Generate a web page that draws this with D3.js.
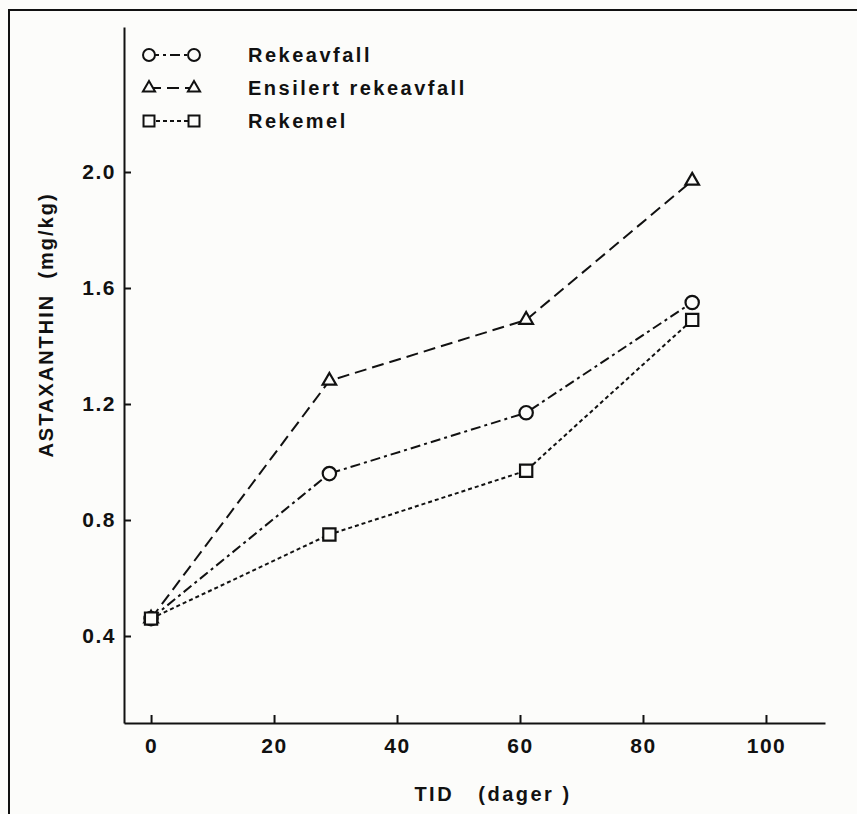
<!DOCTYPE html>
<head>
  <meta charset="utf-8" />
  <script src="https://d3js.org/d3.v7.min.js"></script>
  <style>
    body {
      margin: 0;
      background: #fcfcfa;
    }
    text {
      font-family: "Liberation Sans", Arial, sans-serif;
      font-weight: bold;
      fill: #111;
    }
    .axis path, .axis line {
      stroke: #111;
      stroke-width: 2px;
    }
  </style>
</head>

<body>
  <script>
    var width = 857,
      height = 814;

    // donnees
    var days = [0, 29, 61, 88];
    var rekeavfall = [0.46, 0.96, 1.17, 1.55];
    var ensilert = [0.46, 1.28, 1.49, 1.97];
    var rekemel = [0.46, 0.75, 0.97, 1.49];
    var xTicks = [0, 20, 40, 60, 80, 100];
    var yTicks = [0.4, 0.8, 1.2, 1.6, 2.0];

    var series = [
      { name: "Rekeavfall", values: rekeavfall, symbol: d3.symbolCircle, size: 140, dash: "10,4,3,4" },
      { name: "Ensilert rekeavfall", values: ensilert, symbol: d3.symbolTriangle, size: 80, dash: "12,6" },
      { name: "Rekemel", values: rekemel, symbol: d3.symbolSquare, size: 150, dash: "4,3" }
    ];

    var svg = d3
      .select("body")
      .append("svg")
      .attr("width", width)
      .attr("height", height);

    // cadre (haut et gauche seulement)
    svg.append("path")
      .attr("d", "M9,814 L9,10 L857,10")
      .attr("fill", "none")
      .attr("stroke", "#111")
      .attr("stroke-width", 2);

    var x = d3.scaleLinear().domain([-4.4, 109.6]).range([124, 825]);
    var y = d3.scaleLinear().domain([0.1, 2.5]).range([723, 27]);

    // axe x, ticks vers l'interieur
    svg.append("g")
      .attr("class", "axis")
      .attr("transform", "translate(0," + y(0.1) + ")")
      .call(d3.axisBottom(x).tickValues(xTicks).tickSize(-8).tickPadding(15).tickSizeOuter(0))
      .call((g) => g.selectAll("text").style("font-size", "21px").style("letter-spacing", "1.5px").attr("dy", "0.71em"));

    // axe y, ticks vers l'interieur aussi
    svg.append("g")
      .attr("class", "axis")
      .attr("transform", "translate(" + x(-4.4) + ",0)")
      .call(d3.axisLeft(y).tickValues(yTicks).tickSize(-7).tickPadding(8).tickSizeOuter(0).tickFormat(d3.format(".1f")))
      .call((g) => g.selectAll("text").style("font-size", "21px").style("letter-spacing", "1.5px"));

    // titres
    svg.append("text")
      .attr("x", 493)
      .attr("y", 801)
      .attr("text-anchor", "middle")
      .style("font-size", "20px")
      .style("letter-spacing", "2.5px")
      .attr("xml:space", "preserve")
      .text("TID   (dager )");

    svg.append("text")
      .attr("transform", "translate(53,325) rotate(-90)")
      .attr("text-anchor", "middle")
      .style("font-size", "20px")
      .style("letter-spacing", "2px")
      .attr("xml:space", "preserve")
      .text("ASTAXANTHIN  (mg/kg)");

    var line = d3.line()
      .x((d, i) => x(days[i]))
      .y((d) => y(d));

    series.forEach(function (s) {
      svg.append("path")
        .attr("d", line(s.values))
        .attr("fill", "none")
        .attr("stroke", "#111")
        .attr("stroke-width", 2)
        .attr("stroke-dasharray", s.dash);

      svg.selectAll(null)
        .data(s.values)
        .join("path")
        .attr("transform", (d, i) => "translate(" + x(days[i]) + "," + y(d) + ")")
        .attr("d", d3.symbol().type(s.symbol).size(s.size))
        .attr("fill", "#fcfcfa")
        .attr("stroke", "#111")
        .attr("stroke-width", 2.2);
    });

    // legende
    var legend = svg.append("g").attr("transform", "translate(149,55)");
    series.forEach(function (s, i) {
      var row = legend.append("g").attr("transform", "translate(0," + i * 33 + ")");
      row.append("line")
        .attr("x1", 0).attr("x2", 45)
        .attr("stroke", "#111")
        .attr("stroke-width", 2)
        .attr("stroke-dasharray", s.dash);
      row.selectAll(null)
        .data([0, 45])
        .join("path")
        .attr("transform", (d) => "translate(" + d + ",0)")
        .attr("d", d3.symbol().type(s.symbol).size(s.size * 0.8))
        .attr("fill", "#fcfcfa")
        .attr("stroke", "#111")
        .attr("stroke-width", 2);
      row.append("text")
        .attr("x", 99)
        .attr("dy", "0.35em")
        .style("font-size", "20px")
        .style("letter-spacing", "2.5px")
        .text(s.name);
    });
  </script>
</body>
